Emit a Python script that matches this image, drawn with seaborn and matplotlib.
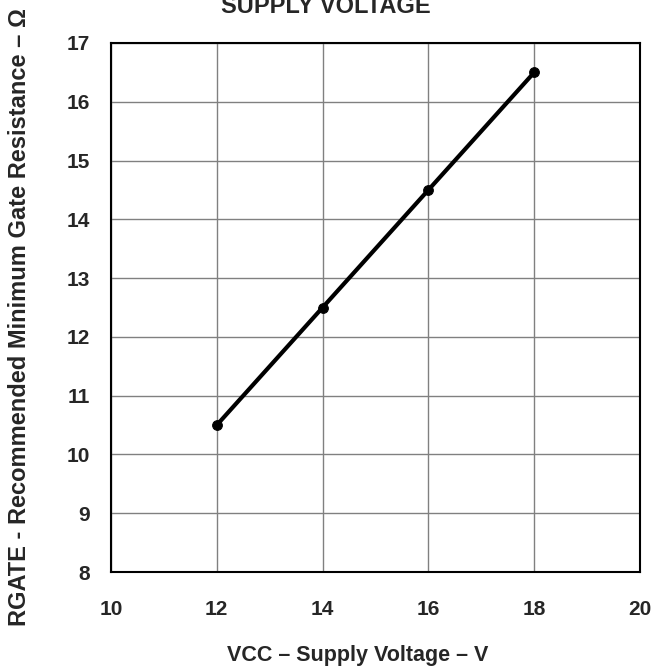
import matplotlib
matplotlib.use("Agg")
import matplotlib.pyplot as plt
import seaborn as sns

supply_voltage = [12, 14, 16, 18]
gate_resistance = [10.5, 12.5, 14.5, 16.5]
x_ticks = [10, 12, 14, 16, 18, 20]
y_ticks = [8, 9, 10, 11, 12, 13, 14, 15, 16, 17]

sns.set_style("white")
plt.rcParams['font.family'] = ['Liberation Sans', 'DejaVu Sans']

fig = plt.figure(figsize=(6.56, 6.68), dpi=100)
ax = fig.add_axes([111 / 656, 1 - 572 / 668, 529 / 656, 529 / 668])

sns.lineplot(x=supply_voltage, y=gate_resistance, color='black', linewidth=3,
             marker='o', markersize=7, markeredgecolor='black', ax=ax)

ax.set_xlim(10, 20)
ax.set_ylim(8, 17)
ax.set_xticks(x_ticks)
ax.set_yticks(y_ticks)
ax.grid(True, color='#808080', linewidth=1)
ax.set_axisbelow(True)
for s in ax.spines.values():
    s.set_color('black')
    s.set_linewidth(1.5)
ax.tick_params(axis='x', length=0, pad=20, labelsize=15)
ax.tick_params(axis='y', length=0, pad=15, labelsize=15)
for lab in ax.get_xticklabels() + ax.get_yticklabels():
    lab.set_fontweight('bold')

# axis titles placed by hand (x title is not centred on the axes)
ax.set_xlabel("")
ax.set_ylabel("")
fig.text(358 / 656, 1 - 661 / 668, "VCC – Supply Voltage – V", ha='center',
         va='baseline', fontsize=15.5, fontweight='bold')
fig.text(20 / 656, 1 - 8 / 668, "RGATE - Recommended Minimum Gate Resistance – Ω",
         rotation=90, ha='center', va='top', fontsize=17, fontweight='bold')

fig.text(0.497, 0.9805, "SUPPLY VOLTAGE", ha='center', va='baseline',
         fontsize=17, fontweight='bold')

fig.savefig("out.png", dpi=100)
